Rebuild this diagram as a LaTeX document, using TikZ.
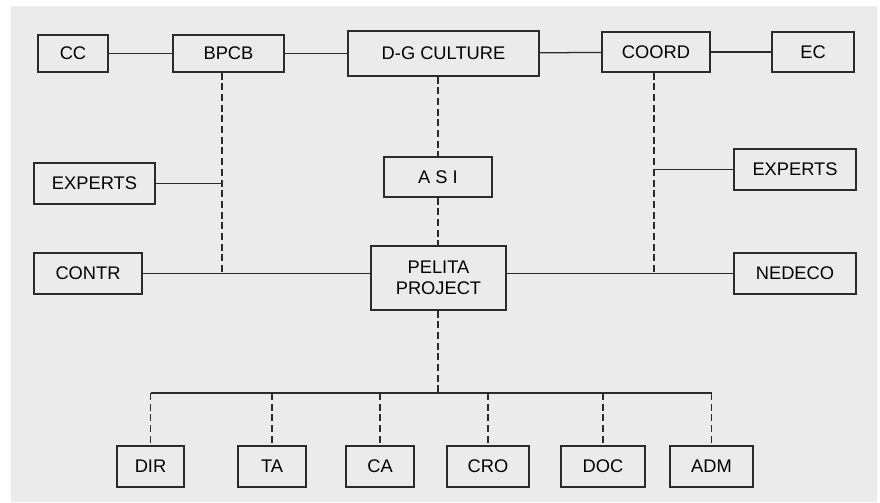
\documentclass[tikz,border=0pt]{standalone}
\usepackage{fontspec}
\setmainfont{Liberation Sans}
\definecolor{panel}{HTML}{EBEBEB}
\definecolor{ink}{HTML}{2B2B2B}
\tikzset{
  box/.style={rectangle, draw=ink, line width=0.9pt, inner sep=0, align=center,
    font=\fontsize{13}{15}\selectfont},
  link/.style={draw=ink, line width=0.9pt},
  dlink/.style={draw=ink, line width=0.9pt, dash pattern=on 5pt off 2.6pt}
}

\begin{document}
\begin{tikzpicture}[x=0.025cm, y=-0.025cm]
    % panel
    \fill[white] (0,0) rectangle (880,502);
    \fill[panel] (11,6) rectangle (877,502);
    \useasboundingbox (0,0) rectangle (880,502);

    % top row
    \node[box, minimum width=70*0.025cm, minimum height=37*0.025cm] (cc) at (73,53.5) {CC};
    \node[box, minimum width=111*0.025cm, minimum height=37*0.025cm] (bpcb) at (228.5,53.5) {BPCB};
    \node[box, minimum width=191*0.025cm, minimum height=45*0.025cm] (dg) at (443.5,53.5) {D-G CULTURE};
    \node[box, minimum width=108*0.025cm, minimum height=40*0.025cm] (coord) at (656,52) {COORD};
    \node[box, minimum width=82*0.025cm, minimum height=40*0.025cm] (ec) at (813,52) {EC};

    % middle
    \node[box, minimum width=121*0.025cm, minimum height=41*0.025cm] (expl) at (94.5,183.5) {EXPERTS};
    \node[box, minimum width=108*0.025cm, minimum height=40*0.025cm] (asi) at (438,177) {A S I};
    \node[box, minimum width=122*0.025cm, minimum height=41*0.025cm] (expr) at (795,169.5) {EXPERTS};
    \node[box, minimum width=108*0.025cm, minimum height=41*0.025cm] (contr) at (88,273.5) {CONTR};
    \node[box, minimum width=135*0.025cm, minimum height=64*0.025cm] (pelita) at (438.5,278) {PELITA\\PROJECT};
    \node[box, minimum width=122*0.025cm, minimum height=41*0.025cm] (nedeco) at (795,273.5) {NEDECO};

    % bottom row
    \node[box, minimum width=67*0.025cm, minimum height=41*0.025cm] (dir) at (150.5,466.5) {DIR};
    \node[box, minimum width=68*0.025cm, minimum height=41*0.025cm] (ta) at (272,466.5) {TA};
    \node[box, minimum width=68*0.025cm, minimum height=41*0.025cm] (ca) at (380,466.5) {CA};
    \node[box, minimum width=82*0.025cm, minimum height=41*0.025cm] (cro) at (488,466.5) {CRO};
    \node[box, minimum width=84*0.025cm, minimum height=41*0.025cm] (doc) at (603,466.5) {DOC};
    \node[box, minimum width=83*0.025cm, minimum height=41*0.025cm] (adm) at (711.5,466.5) {ADM};

    % junctions
    \coordinate (jl) at (222,273);
    \coordinate (jr) at (654,273);
    \coordinate (bus) at (438,393);

    % solid links
    \draw[link] (cc) -- (bpcb);
    \draw[link] (bpcb) -- (dg);
    \draw[link] (dg) -- (coord);
    \draw[link] (coord) -- (ec);
    \draw[link] (expl.east) -- (expl.east -| jl);
    \draw[link] (expr.west) -- (expr.west -| jr);
    \draw[link] (contr.east) -- (pelita.west |- contr.east);
    \draw[link] (pelita.east |- nedeco.west) -- (nedeco.west);
    \draw[link] (bus -| dir) -- (bus -| adm);

    % dashed links
    \draw[dlink] (bpcb.south -| jl) -- (jl);
    \draw[dlink] (coord.south -| jr) -- (jr);
    \draw[dlink] (dg.south -| asi) -- (asi.north);
    \draw[dlink] (asi.south) -- (pelita.north -| asi);
    \draw[dlink] (pelita.south -| bus) -- (bus);
    \foreach \n in {dir,ta,ca,cro,doc,adm}
        \draw[dlink] (bus -| \n) -- (\n.north);
\end{tikzpicture}
\end{document}
